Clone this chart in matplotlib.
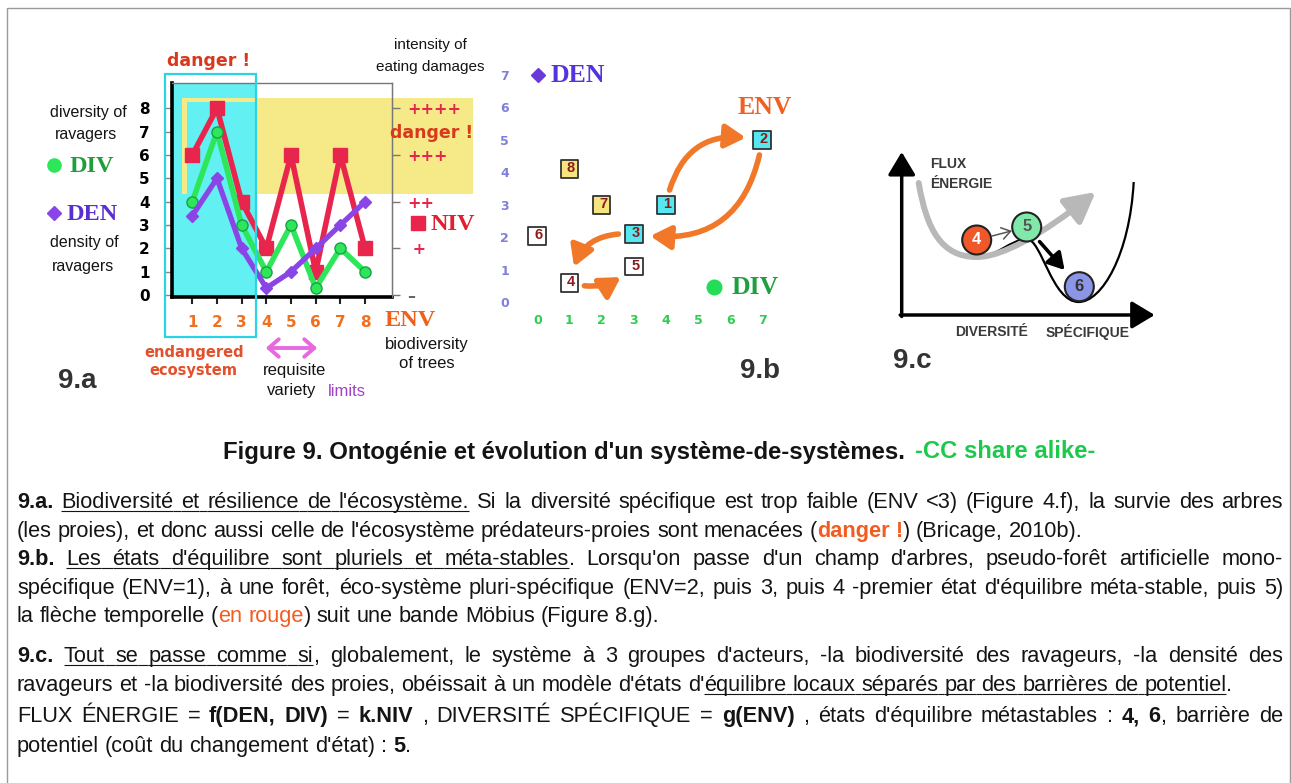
import matplotlib
matplotlib.use("Agg")
import matplotlib.pyplot as plt
from matplotlib import font_manager
from matplotlib.font_manager import FontProperties
from matplotlib.patches import Rectangle, Circle, FancyArrowPatch, PathPatch
from matplotlib.path import Path

W, H = 1291, 783

# ---- 9.a : one value per level of tree biodiversity (ENV)
env = [1, 2, 3, 4, 5, 6, 7, 8]
niv = [6, 8, 4, 2, 6, 1, 6, 2]          # intensity of eating damages
div = [4, 7, 3, 1, 3, 0.3, 2, 1]        # diversity of ravagers
den = [3.4, 5, 2, 0.3, 1, 2, 3, 4]      # density of ravagers
niv_ticks = [0, 2, 4, 6, 8]
niv_labels = ["–", " +", "++", "+++", "++++"]

# ---- 9.b : states in the (DIV, DEN) plane
state_id = [1, 2, 3, 4, 5, 6, 7, 8]
state_div = [4, 7, 3, 1, 3, 0, 2, 1]
state_den = [3, 5, 2.1, 0.6, 1.1, 2.05, 3, 4.1]
state_zone = ["endangered", "endangered", "endangered",
              "requisite", "requisite", "requisite", "danger", "danger"]
trajectory = [1, 2, 3, 4, 5]

# ---- 9.c : potential landscape (bezier vertices, x = diversite, y = flux)
well_curve = [(18, 132), (26, 85), (40, 58), (75, 58), (95, 58), (110, 76), (125, 76),
              (140, 76), (150, 13), (177, 13), (200, 13), (228, 60), (232, 133)]
flux_curve = [(17, 132), (25, 85), (40, 58), (75, 58), (100, 58), (140, 80), (194, 123)]
ball_labels = ["4", "5", "6"]
ball_x = [75, 125, 177.6]
ball_y = [75, 88, 28.3]

# ---- caption text
title_txt = "Figure 9. Ontogénie et évolution d'un système-de-systèmes."
cc_txt = "-CC share alike-"
body = [
    [("9.a.", "b"), (" ", ""), ("Biodiversité et résilience de l'écosystème.", "u"),
     (" Si la diversité spécifique est trop faible (ENV <3) (Figure 4.f), la survie des arbres", "")],
    [("(les proies), et donc aussi celle de l'écosystème prédateurs-proies sont menacées (", ""),
     ("danger !", "bo"), (") (Bricage, 2010b).", "")],
    [("9.b.", "b"), (" ", ""), ("Les états d'équilibre sont pluriels et méta-stables", "u"),
     (". Lorsqu'on passe d'un champ d'arbres, pseudo-forêt artificielle mono-", "")],
    [("spécifique (ENV=1), à une forêt, éco-système pluri-spécifique (ENV=2, puis 3, puis 4 "
      "-premier état d'équilibre méta-stable, puis 5)", "")],
    [("la flèche temporelle (", ""), ("en rouge", "o"), (") suit une bande Möbius (Figure 8.g).", "")],
    [("9.c.", "b"), (" ", ""), ("Tout se passe comme si", "u"),
     (", globalement, le système à 3 groupes d'acteurs, -la biodiversité des ravageurs, -la densité des", "")],
    [("ravageurs et -la biodiversité des proies, obéissait à un modèle d'états d'", ""),
     ("équilibre locaux séparés par des barrières de potentiel", "u"), (".", "")],
    [("FLUX ÉNERGIE = ", ""), ("f(DEN, DIV)", "b"), (" = ", ""), ("k.NIV", "b"),
     (" , DIVERSITÉ SPÉCIFIQUE = ", ""), ("g(ENV)", "b"),
     (" , états d'équilibre métastables : ", ""), ("4, 6", "b"), (", barrière de", "")],
    [("potentiel (coût du changement d'état) : ", ""), ("5", "b"), (".", "")],
]
body_base = [508, 537, 565, 594, 622, 662, 691, 722, 752]
body_justify = [True, False, True, True, False, True, False, True, False]

avail = {f.name for f in font_manager.fontManager.ttflist}
NARROW = "Liberation Sans Narrow" if "Liberation Sans Narrow" in avail else "Liberation Sans"
SANS = "Liberation Sans"
SERIF = "Liberation Serif"
HEAVY = "DejaVu Sans"

RED = "#e8254d"
GREEN = "#2ee65a"
PURPLE = "#8a45e6"
CYAN = "#62f0f2"
YELLOW = "#f6ea88"
ORANGE = "#f07020"
INK = "#141414"

fig = plt.figure(figsize=(W / 100, H / 100), dpi=100)
fig.patch.set_facecolor("white")
renderer = fig.canvas.get_renderer()


def rect(x0, y0, x1, y1):
    return [x0 / W, 1 - y1 / H, (x1 - x0) / W, (y1 - y0) / H]


def text_w(s, family, weight, size):
    fp = FontProperties(family=family, weight=weight, size=size)
    return renderer.get_text_width_height_descent(s, fp, ismath=False)[0]


def fit(s, width, family, weight="normal"):
    return 10 * width / text_w(s, family, weight, 10)


ov = fig.add_axes([0, 0, 1, 1], zorder=10)
ov.set_xlim(0, W)
ov.set_ylim(H, 0)
ov.axis("off")


def label(x, y, s, size, color=INK, family=SANS, weight="normal", ha="center", va="center"):
    ov.text(x, y, s, fontsize=size, color=color, family=family, fontweight=weight, ha=ha, va=va)


# ================= 9.a
ax = fig.add_axes(rect(171.7, 83.3, 391.7, 296.7))
ax.set_xlim(0.165, 9.08)
ax.set_ylim(-0.07, 9.07)
ax.axvspan(0.165, 3.54, color=CYAN, lw=0, zorder=1)
ax.add_patch(Rectangle((0.595, 4.31), 11.78, 4.12, fc=YELLOW, ec="none", zorder=1.5, clip_on=False))
ax.add_patch(Rectangle((0.80, 4.31), 2.74, 3.95, fc=CYAN, ec="none", zorder=1.6))
ax.plot(env, niv, color=RED, lw=4, marker="s", ms=9.5, zorder=3)
ax.plot(env, div, color=GREEN, lw=4, marker="o", ms=8, mec="#1aa045", mew=1, zorder=4)
ax.plot(env, den, color=PURPLE, lw=3.8, marker="D", ms=6, zorder=5)
for s in ["left", "bottom"]:
    ax.spines[s].set_color("black")
    ax.spines[s].set_linewidth(2.6)
for s in ["top", "right"]:
    ax.spines[s].set_color("#777777")
    ax.spines[s].set_linewidth(1)
ax.set_xticks(env)
ax.set_yticks(range(9))
ax.tick_params(axis="y", direction="out", length=5, width=1, color="#888888", pad=11)
ax.tick_params(axis="x", direction="out", length=5, width=1.5, color="#222222", pad=8,
               labelcolor=ORANGE)
for lab in ax.get_yticklabels():
    lab.set(fontweight="bold", family=HEAVY, fontsize=11)
for lab in ax.get_xticklabels():
    lab.set(fontweight="bold", family=HEAVY, fontsize=11)

ax2 = ax.twinx()
ax2.set_ylim(ax.get_ylim())
ax2.set_yticks(niv_ticks, labels=niv_labels)
for s in ["left", "top", "bottom"]:
    ax2.spines[s].set_visible(False)
ax2.spines["right"].set_color("#777777")
ax2.tick_params(axis="y", direction="out", length=6, width=1, color="#777777", pad=5)
for lab in ax2.get_yticklabels():
    lab.set(fontweight="bold", family=HEAVY, fontsize=11.5, color=RED)
ax2.get_yticklabels()[0].set_color("#666666")

ov.add_patch(Rectangle((165, 74), 91, 263, fill=False, ec="#2ad4e4", lw=1.6))
label(209, 61, "danger !", 12.5, "#d8381c", HEAVY, "bold")
label(432, 133, "danger !", 12.5, "#d8381c", HEAVY, "bold")
label(430, 45, "intensity of", 11)
label(430, 67, "eating damages", 11)
label(88, 112, "diversity of", 11.5)
label(86, 135, "ravagers", 11.5)
ov.plot([54], [165], "o", ms=9.5, color=GREEN)
label(70, 166, "DIV", 17.5, "#1f9e3a", SERIF, "bold", ha="left")
ov.plot([54], [213], "D", ms=7, color=PURPLE)
label(67, 214, "DEN", 17.5, "#5a2fd0", SERIF, "bold", ha="left")
label(84, 243, "density of", 11.5)
label(83, 267, "ravagers", 11.5)
ov.plot([417.7], [223], "s", ms=9.5, color=RED)
label(431, 224, "NIV", 17.5, "#e02030", SERIF, "bold", ha="left")
label(385, 321, "ENV", 17.5, "#f06018", SERIF, "bold", ha="left")
label(194, 353, "endangered", 10.5, "#e2502c", HEAVY, "bold")
label(193, 370, "ecosystem", 10.5, "#e2502c", HEAVY, "bold")
ov.add_patch(FancyArrowPatch((263, 348), (320, 348), arrowstyle="<->,head_length=0.4,head_width=0.35",
                             mutation_scale=18, lw=2.8, color="#e868e0"))
label(294, 370, "requisite", 12)
label(292, 391, "variety", 12)
label(328, 391, "limits", 12, "#a040c8", ha="left")
label(427, 345, "biodiversity", 12)
label(427, 364, "of trees", 12)
label(58, 381, "9.a", 20, "#333333", SANS, "bold", ha="left")

# ================= 9.b
bx = fig.add_axes(rect(520, 60, 800, 308))
bx.set_xlim(-0.538, 8.173)
bx.set_ylim(-0.176, 7.462)
for s in bx.spines.values():
    s.set_visible(False)
bx.patch.set_alpha(0)
bx.set_xticks(range(8))
bx.set_yticks(range(8))
bx.tick_params(axis="x", length=0, pad=4, labelcolor="#2ecc50")
bx.tick_params(axis="y", length=0, pad=8, labelcolor="#7f80d8")
for lab in bx.get_xticklabels() + bx.get_yticklabels():
    lab.set(fontweight="bold", family=HEAVY, fontsize=9)
zone_colors = {"endangered": "#55e8f0", "requisite": "white", "danger": "#f6e47e"}
bx.scatter(state_div, state_den, marker="s", s=165, c=[zone_colors[z] for z in state_zone],
           edgecolors="#333333", linewidths=1.3, zorder=3)
for i, xx, yy in zip(state_id, state_div, state_den):
    bx.text(xx + 0.05, yy + 0.03, str(i), ha="center", va="center", color="#8b1c1c",
            fontsize=10.5, fontweight="bold", family=SANS, zorder=4)
rads = [-0.5, -0.5, 0.45, 0.3]
for (a, b), r in zip(zip(trajectory[:-1], trajectory[1:]), rads):
    bx.add_patch(FancyArrowPatch((state_div[a - 1], state_den[a - 1]), (state_div[b - 1], state_den[b - 1]),
                                 connectionstyle=f"arc3,rad={r}",
                                 arrowstyle="-|>,head_length=0.55,head_width=0.32",
                                 mutation_scale=22, lw=4, color="#f07828",
                                 shrinkA=11, shrinkB=12, zorder=2))
ov.plot([538], [75], "D", ms=7.5, color="#6a3ad8")
label(551, 76, "DEN", 18.5, "#5533dd", SERIF, "bold", ha="left")
label(738, 108, "ENV", 18.5, "#f06020", SERIF, "bold", ha="left")
ov.plot([714], [287], "o", ms=10.5, color="#22dd55")
label(732, 288, "DIV", 18.5, "#1ea040", SERIF, "bold", ha="left")
label(740, 371, "9.b", 20, "#333333", SANS, "bold", ha="left")

# ================= 9.c
cx = fig.add_axes(rect(880, 140, 1170, 345))
cx.set_xlim(-21.7, 268.3)
cx.set_ylim(-30, 175)
cx.axis("off")
cx.add_patch(FancyArrowPatch((0, -1.5), (0, 163), arrowstyle="-|>,head_length=0.7,head_width=0.42",
                             mutation_scale=20, lw=2.5, color="black", shrinkA=0, shrinkB=0))
cx.add_patch(FancyArrowPatch((-1.5, 0), (253, 0), arrowstyle="-|>,head_length=0.7,head_width=0.42",
                             mutation_scale=20, lw=2.5, color="black", shrinkA=0, shrinkB=0))
codes = [Path.MOVETO] + [Path.CURVE4] * (len(well_curve) - 1)
cx.add_patch(PathPatch(Path(well_curve, codes), fc="none", ec="black", lw=1.6, zorder=2))
codes = [Path.MOVETO] + [Path.CURVE4] * (len(flux_curve) - 1)
cx.add_patch(FancyArrowPatch(path=Path(flux_curve, codes),
                             arrowstyle="-|>,head_length=0.9,head_width=0.48",
                             mutation_scale=20, lw=4.3, color="#b8b8b8", zorder=3))
ball_colors = ["#f0582a", "#80e8a8", "#8c96e6"]
ball_text = ["white", "#555555", "#333333"]
for lab, xx, yy, fc, tc in zip(ball_labels, ball_x, ball_y, ball_colors, ball_text):
    cx.add_patch(Circle((xx, yy), 14.5, fc=fc, ec="#222222", lw=1.5, zorder=5))
    cx.text(xx, yy, lab, ha="center", va="center", fontsize=12, fontweight="bold",
            color=tc, family=NARROW, zorder=6)
cx.add_patch(FancyArrowPatch((ball_x[0], ball_y[0]), (ball_x[1], ball_y[1]),
                             arrowstyle="->,head_length=0.45,head_width=0.3", mutation_scale=14,
                             lw=1.1, color="#555555", shrinkA=11, shrinkB=11, zorder=6))
cx.add_patch(FancyArrowPatch((ball_x[1], ball_y[1]), (ball_x[2], ball_y[2]),
                             arrowstyle="-|>,head_length=0.55,head_width=0.32", mutation_scale=18,
                             lw=2.6, color="black", shrinkA=14, shrinkB=16, zorder=6))
c_size = fit("SPÉCIFIQUE", 84, NARROW, "bold")
label(930, 164, "FLUX", c_size, "#3a3a3a", NARROW, "bold", ha="left")
label(930, 184, "ÉNERGIE", c_size, "#3a3a3a", NARROW, "bold", ha="left")
label(992, 332, "DIVERSITÉ", c_size, "#3a3a3a", NARROW, "bold")
label(1088, 332, "SPÉCIFIQUE", c_size, "#3a3a3a", NARROW, "bold")
label(893, 361, "9.c", 20, "#333333", SANS, "bold", ha="left")

# ================= caption
t_size = fit(title_txt, 685, NARROW, "bold")
ov.text(223, 458.5, title_txt, fontsize=t_size, family=NARROW, fontweight="bold", color=INK,
        ha="left", va="baseline")
ov.text(915, 458.5, cc_txt, fontsize=t_size, family=NARROW, fontweight="bold", color="#1dc94a",
        ha="left", va="baseline")


def run_style(st):
    return ("bold" if "b" in st else "normal"), ("#f25c1e" if "o" in st else INK)


def words_of(runs):
    words, gap_u = [[]], []
    for s, st in runs:
        for i, part in enumerate(s.split(" ")):
            if i:
                words.append([])
                gap_u.append("u" in st)
            if part:
                words[-1].append((part, st))
    out_w, out_g = [], []
    for k, w in enumerate(words):
        if w:
            if out_w:
                out_g.append(gap_u[k - 1])
            out_w.append(w)
    return out_w, out_g


def space_w(size):
    return text_w("a a", NARROW, "normal", size) - text_w("aa", NARROW, "normal", size)


def line_width(runs, size):
    words, _ = words_of(runs)
    tot = sum(text_w(p, NARROW, run_style(st)[0], size) for w in words for p, st in w)
    return tot + space_w(size) * (len(words) - 1)


def draw_line(runs, y, size, x0, target=None):
    words, gaps = words_of(runs)
    ww = [[text_w(p, NARROW, run_style(st)[0], size) for p, st in w] for w in words]
    if target is None:
        gap = space_w(size)
    else:
        gap = (target - sum(map(sum, ww))) / (len(words) - 1)
    x, prev = x0, x0
    for k, (w, wl) in enumerate(zip(words, ww)):
        if k and gaps[k - 1]:
            ov.plot([prev, x], [y + 2.5] * 2, color=INK, lw=0.8, solid_capstyle="butt")
        for (p, st), pw in zip(w, wl):
            weight, color = run_style(st)
            ov.text(x, y, p, fontsize=size, family=NARROW, fontweight=weight, color=color,
                    ha="left", va="baseline")
            if "u" in st:
                ov.plot([x, x + pw], [y + 2.5] * 2, color=INK, lw=0.8, solid_capstyle="butt")
            x += pw
        prev = x
        x += gap


b_size = 10 * 1226 / line_width(body[6], 10)
for runs, yb, just in zip(body, body_base, body_justify):
    draw_line(runs, yb, b_size, 17, 1266 if just else None)

ov.add_patch(Rectangle((7, 8), 1283, 800, fill=False, ec="#9a9a9a", lw=1, clip_on=False))

fig.savefig("out.png", dpi=100, facecolor="white")
